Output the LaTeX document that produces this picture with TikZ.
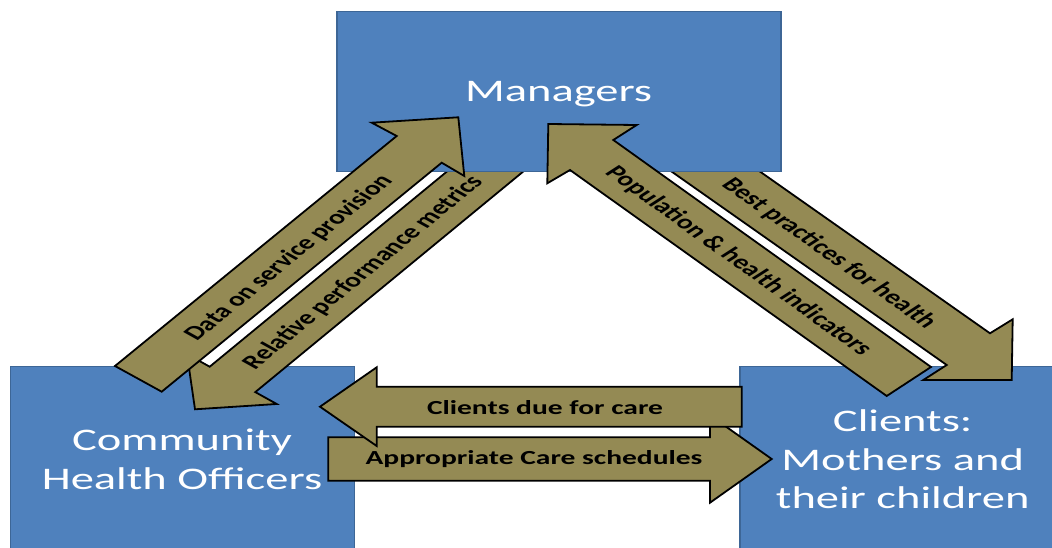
\documentclass[tikz,border=0pt]{standalone}
\usepackage{fontspec}
\setmainfont{Carlito}
\definecolor{boxblue}{HTML}{4F81BD}
\definecolor{boxedge}{HTML}{3D6696}
\definecolor{arrowfill}{HTML}{948A54}
\begin{document}
\begin{tikzpicture}[x=1pt,y=-1pt,
  box/.style={draw=boxedge, line width=1.2pt, fill=boxblue, inner sep=0pt},
  barrow/.style={draw=black, line width=1.8pt, fill=arrowfill, line join=miter},
  boxtext/.style={text=white, font=\fontsize{46.5}{57}\selectfont, align=center, inner sep=0pt},
  lbl/.style={text=black, font=\fontsize{29.5}{35}\selectfont\bfseries, inner sep=0pt},
  sq/.style={shift={#1}, yscale=0.676}
]
\useasboundingbox (0,0) rectangle (1052,548);
\clip (0,0) rectangle (1052,548);
\fill[white] (0,0) rectangle (1052,548);

% lower boxes
\node[box, minimum width=344pt, minimum height=200pt] (cho) at (182.2,466.4) {};
\node[box, minimum width=330pt, minimum height=200pt] (cli) at (905,466.4) {};

% arrows whose tails lie under the Managers box
\draw[barrow] (473.1,150) -- (209.7,366.7) -- (187,354.1) -- (195,409.3) -- (276.7,404) -- (255.3,392.1) -- (549.4,150) -- cycle;
\draw[barrow] (640.9,150) -- (946.7,365) -- (923.3,380) -- (1011.7,380) -- (1012.7,319.3) -- (990,333.3) -- (729.3,150) -- cycle;

% Managers box
\node[box, minimum width=444pt, minimum height=160pt] (mgr) at (559,91.3) {};

% arrows into the Managers box
\draw[barrow] (115,366) -- (396.7,136) -- (371.7,122.7) -- (458.3,117.3) -- (464.3,176) -- (441.7,162.7) -- (161.7,391.7) -- cycle;
\draw[barrow] (886.7,396) -- (570,170) -- (547.3,183.3) -- (548.3,124) -- (636.7,125) -- (613.3,140) -- (931,367) -- cycle;

% horizontal arrows
\draw[barrow] (328.3,437.3) -- (710,437.3) -- (710,415.3) -- (771.7,459) -- (710,502.7) -- (710,480.7) -- (328.3,480.7) -- cycle;
\draw[barrow] (741.7,386.7) -- (376.7,386.7) -- (376.7,367.3) -- (320,406.7) -- (376.7,446) -- (376.7,426.7) -- (741.7,426.7) -- cycle;

% box texts (base = baseline of the last line)
\begin{scope}[sq={(558.6,101.4)}]
  \node[boxtext, anchor=base, transform shape] (tmgr) at (0,0) {Managers};
\end{scope}
\begin{scope}[sq={(182,489.5)}]
  \node[boxtext, anchor=base, transform shape] (tcho) at (0,0) {Community\\Health Officers};
\end{scope}
\begin{scope}[sq={(902.7,508.7)}]
  \node[boxtext, anchor=base, transform shape] (tcli) at (0,0) {Clients:\\Mothers and\\their children};
\end{scope}

% arrow labels
\begin{scope}[sq={(289,258)}]
  \node[lbl, rotate=50.4, transform shape] (l1) at (0,0) {Data on service provision};
\end{scope}
\begin{scope}[sq={(363.3,272.5)}]
  \node[lbl, rotate=50.6, transform shape] (l2) at (0,0) {Relative performance metrics};
\end{scope}
\begin{scope}[sq={(738.3,261.2)}]
  \node[lbl, rotate=-46.5, transform shape] (l3) at (0,0) {Population \& health indicators};
\end{scope}
\begin{scope}[sq={(829,253.5)}]
  \node[lbl, rotate=-46.1, transform shape] (l4) at (0,0) {Best practices for health};
\end{scope}
\begin{scope}[sq={(545,408)}]
  \node[lbl, transform shape] (l5) at (0,0) {Clients due for care};
\end{scope}
\begin{scope}[sq={(534,459.3)}]
  \node[lbl, transform shape] (l6) at (0,0) {Appropriate Care schedules};
\end{scope}
\end{tikzpicture}
\end{document}
